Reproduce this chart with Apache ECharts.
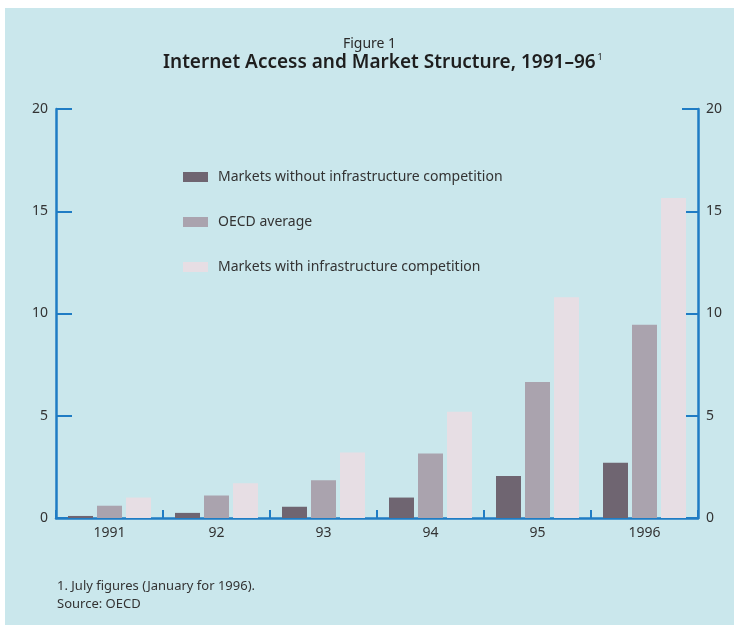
<!DOCTYPE html>
<html><head><meta charset="utf-8">
<script src="https://cdn.jsdelivr.net/npm/echarts@6/dist/echarts.min.js"></script>
<style>html,body{margin:0;padding:0;background:#fff}#c{width:739px;height:631px}</style>
</head><body><div id="c"></div>
<script>
const categories = ['1991', '92', '93', '94', '95', '1996'];
const withoutComp = [0.1, 0.25, 0.55, 1.0, 2.05, 2.7];
const oecdAvg = [0.6, 1.1, 1.85, 3.15, 6.65, 9.45];
const withComp = [1.0, 1.7, 3.2, 5.2, 10.8, 15.65];
const yTicks = [0, 5, 10, 15, 20];
const seriesNames = ['Markets without infrastructure competition', 'OECD average', 'Markets with infrastructure competition'];
const colors = ['#6f6571', '#aaa3ae', '#e7dee4'];
const FONT = 'Noto Sans, sans-serif';
const axisBlue = '#1f7cc4';

const chart = echarts.init(document.getElementById('c'));
const yAxisCommon = {
  type: 'value', min: yTicks[0], max: yTicks[yTicks.length - 1], interval: 5,
  axisLine: {show: true, lineStyle: {color: axisBlue, width: 2.5}},
  axisTick: {show: true, inside: true, length: 16, lineStyle: {color: axisBlue, width: 2}},
  splitLine: {show: false},
  axisLabel: {color: '#333', fontFamily: FONT, fontSize: 14, margin: 8}
};
chart.setOption({
  backgroundColor: '#ffffff',
  graphic: [
    {type: 'rect', shape: {x: 5, y: 8, width: 729, height: 617}, style: {fill: '#cae7ec'}, z: -10},
    {type: 'text', left: 'center', top: 37, style: {text: 'Figure 1', font: '14px ' + FONT, fill: '#2a2a2a'}},
    {type: 'text', left: 163, top: 53, style: {
      text: '{t|Internet Access and Market Structure, 1991–96}{s|1}',
      rich: {t: {font: '600 19px ' + FONT, fill: '#1e1e1e'}, s: {font: '9px ' + FONT, fill: '#1e1e1e', verticalAlign: 'top', padding: [0, 0, 10, 2]}}
    }},
    {type: 'text', left: 57, top: 577, style: {text: '1. July figures (January for 1996).\nSource: OECD', font: '13px ' + FONT, fill: '#333', lineHeight: 18}}
  ],
  legend: {
    orient: 'vertical', left: 178, top: 165, itemWidth: 25, itemHeight: 10, itemGap: 31,
    icon: 'rect',
    textStyle: {fontFamily: FONT, fontSize: 14, color: '#333', padding: [0, 0, 0, 5]},
    data: seriesNames
  },
  grid: {left: 56, right: 41, top: 109, bottom: 113},
  xAxis: {
    type: 'category', data: categories,
    axisLine: {show: true, lineStyle: {color: axisBlue, width: 2.5}},
    axisTick: {show: true, inside: true, length: 8, lineStyle: {color: axisBlue, width: 2}},
    axisLabel: {color: '#333', fontFamily: FONT, fontSize: 14, margin: 8}
  },
  yAxis: [
    Object.assign({}, yAxisCommon, {position: 'left'}),
    Object.assign({}, yAxisCommon, {position: 'right'})
  ],
  series: [
    {name: seriesNames[0], type: 'bar', data: withoutComp, barWidth: 25, barGap: '16%', itemStyle: {color: colors[0]}},
    {name: seriesNames[1], type: 'bar', data: oecdAvg, barWidth: 25, barGap: '16%', itemStyle: {color: colors[1]}},
    {name: seriesNames[2], type: 'bar', data: withComp, barWidth: 25, barGap: '16%', itemStyle: {color: colors[2]}}
  ]
});
</script></body></html>
